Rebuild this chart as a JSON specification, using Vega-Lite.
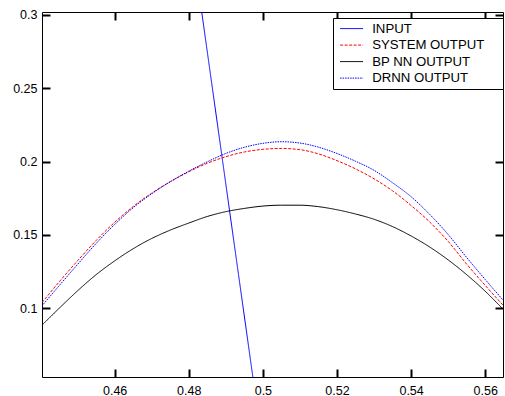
{
  "$schema": "https://vega.github.io/schema/vega-lite/v6.json",
  "width": 461,
  "height": 365,
  "autosize": {"type": "none"},
  "padding": {"left": 42, "top": 12, "right": 2, "bottom": 19},
  "background": "white",
  "config": {
    "view": {"stroke": "black", "strokeWidth": 1},
    "font": "Liberation Sans",
    "axis": {"labelFont": "Liberation Sans", "labelFontSize": 12.5, "labelColor": "black", "grid": false, "title": null}
  },
  "data": {"values": [
    {"series": "INPUT", "x": 0.4835, "y": 0.302},
    {"series": "INPUT", "x": 0.4973, "y": 0.053},
    {"series": "SYSTEM OUTPUT", "x": 0.4404, "y": 0.1038},
    {"series": "SYSTEM OUTPUT", "x": 0.445, "y": 0.1178},
    {"series": "SYSTEM OUTPUT", "x": 0.45, "y": 0.1323},
    {"series": "SYSTEM OUTPUT", "x": 0.455, "y": 0.1461},
    {"series": "SYSTEM OUTPUT", "x": 0.46, "y": 0.1585},
    {"series": "SYSTEM OUTPUT", "x": 0.465, "y": 0.1693},
    {"series": "SYSTEM OUTPUT", "x": 0.47, "y": 0.1784},
    {"series": "SYSTEM OUTPUT", "x": 0.475, "y": 0.1862},
    {"series": "SYSTEM OUTPUT", "x": 0.48, "y": 0.1930},
    {"series": "SYSTEM OUTPUT", "x": 0.485, "y": 0.1988},
    {"series": "SYSTEM OUTPUT", "x": 0.49, "y": 0.2033},
    {"series": "SYSTEM OUTPUT", "x": 0.495, "y": 0.2065},
    {"series": "SYSTEM OUTPUT", "x": 0.50, "y": 0.2083},
    {"series": "SYSTEM OUTPUT", "x": 0.505, "y": 0.2089},
    {"series": "SYSTEM OUTPUT", "x": 0.51, "y": 0.2081},
    {"series": "SYSTEM OUTPUT", "x": 0.515, "y": 0.2052},
    {"series": "SYSTEM OUTPUT", "x": 0.52, "y": 0.2006},
    {"series": "SYSTEM OUTPUT", "x": 0.525, "y": 0.1950},
    {"series": "SYSTEM OUTPUT", "x": 0.53, "y": 0.1882},
    {"series": "SYSTEM OUTPUT", "x": 0.535, "y": 0.1800},
    {"series": "SYSTEM OUTPUT", "x": 0.54, "y": 0.1700},
    {"series": "SYSTEM OUTPUT", "x": 0.545, "y": 0.1588},
    {"series": "SYSTEM OUTPUT", "x": 0.55, "y": 0.1455},
    {"series": "SYSTEM OUTPUT", "x": 0.555, "y": 0.1300},
    {"series": "SYSTEM OUTPUT", "x": 0.56, "y": 0.1155},
    {"series": "SYSTEM OUTPUT", "x": 0.5648, "y": 0.1020},
    {"series": "BP NN OUTPUT", "x": 0.4404, "y": 0.0884},
    {"series": "BP NN OUTPUT", "x": 0.445, "y": 0.0998},
    {"series": "BP NN OUTPUT", "x": 0.45, "y": 0.1118},
    {"series": "BP NN OUTPUT", "x": 0.455, "y": 0.1228},
    {"series": "BP NN OUTPUT", "x": 0.46, "y": 0.1322},
    {"series": "BP NN OUTPUT", "x": 0.465, "y": 0.1405},
    {"series": "BP NN OUTPUT", "x": 0.47, "y": 0.1475},
    {"series": "BP NN OUTPUT", "x": 0.475, "y": 0.1532},
    {"series": "BP NN OUTPUT", "x": 0.48, "y": 0.1580},
    {"series": "BP NN OUTPUT", "x": 0.485, "y": 0.1625},
    {"series": "BP NN OUTPUT", "x": 0.49, "y": 0.1658},
    {"series": "BP NN OUTPUT", "x": 0.495, "y": 0.1680},
    {"series": "BP NN OUTPUT", "x": 0.50, "y": 0.1696},
    {"series": "BP NN OUTPUT", "x": 0.505, "y": 0.1702},
    {"series": "BP NN OUTPUT", "x": 0.51, "y": 0.1702},
    {"series": "BP NN OUTPUT", "x": 0.515, "y": 0.1692},
    {"series": "BP NN OUTPUT", "x": 0.52, "y": 0.1671},
    {"series": "BP NN OUTPUT", "x": 0.525, "y": 0.1642},
    {"series": "BP NN OUTPUT", "x": 0.53, "y": 0.1606},
    {"series": "BP NN OUTPUT", "x": 0.535, "y": 0.1556},
    {"series": "BP NN OUTPUT", "x": 0.54, "y": 0.1492},
    {"series": "BP NN OUTPUT", "x": 0.545, "y": 0.1417},
    {"series": "BP NN OUTPUT", "x": 0.55, "y": 0.1329},
    {"series": "BP NN OUTPUT", "x": 0.555, "y": 0.1228},
    {"series": "BP NN OUTPUT", "x": 0.56, "y": 0.1115},
    {"series": "BP NN OUTPUT", "x": 0.5648, "y": 0.0993},
    {"series": "DRNN OUTPUT", "x": 0.4404, "y": 0.1016},
    {"series": "DRNN OUTPUT", "x": 0.445, "y": 0.1152},
    {"series": "DRNN OUTPUT", "x": 0.45, "y": 0.1298},
    {"series": "DRNN OUTPUT", "x": 0.455, "y": 0.1441},
    {"series": "DRNN OUTPUT", "x": 0.46, "y": 0.1570},
    {"series": "DRNN OUTPUT", "x": 0.465, "y": 0.1685},
    {"series": "DRNN OUTPUT", "x": 0.47, "y": 0.1780},
    {"series": "DRNN OUTPUT", "x": 0.475, "y": 0.1862},
    {"series": "DRNN OUTPUT", "x": 0.48, "y": 0.1934},
    {"series": "DRNN OUTPUT", "x": 0.485, "y": 0.1998},
    {"series": "DRNN OUTPUT", "x": 0.49, "y": 0.2055},
    {"series": "DRNN OUTPUT", "x": 0.495, "y": 0.2097},
    {"series": "DRNN OUTPUT", "x": 0.50, "y": 0.2124},
    {"series": "DRNN OUTPUT", "x": 0.505, "y": 0.2135},
    {"series": "DRNN OUTPUT", "x": 0.51, "y": 0.2126},
    {"series": "DRNN OUTPUT", "x": 0.515, "y": 0.2098},
    {"series": "DRNN OUTPUT", "x": 0.52, "y": 0.2055},
    {"series": "DRNN OUTPUT", "x": 0.525, "y": 0.2002},
    {"series": "DRNN OUTPUT", "x": 0.53, "y": 0.1940},
    {"series": "DRNN OUTPUT", "x": 0.535, "y": 0.1855},
    {"series": "DRNN OUTPUT", "x": 0.54, "y": 0.1760},
    {"series": "DRNN OUTPUT", "x": 0.545, "y": 0.1640},
    {"series": "DRNN OUTPUT", "x": 0.55, "y": 0.1502},
    {"series": "DRNN OUTPUT", "x": 0.555, "y": 0.1345},
    {"series": "DRNN OUTPUT", "x": 0.56, "y": 0.1195},
    {"series": "DRNN OUTPUT", "x": 0.5648, "y": 0.1055}
  ]},
  "resolve": {"axis": {"x": "independent", "y": "independent"}},
  "layer": [
    {
      "mark": {"type": "line", "clip": true, "strokeWidth": 1, "interpolate": "monotone"},
      "encoding": {
        "x": {"field": "x", "type": "quantitative",
          "scale": {"domain": [0.4404, 0.5648], "nice": false, "zero": false},
          "axis": {"orient": "bottom", "values": [0.46, 0.48, 0.5, 0.52, 0.54, 0.56], "format": "~g", "labelPadding": 7, "domain": false, "ticks": true, "tickSize": 8, "tickWidth": 2, "tickColor": "black", "offset": -8}},
        "y": {"field": "y", "type": "quantitative",
          "scale": {"domain": [0.053, 0.302], "nice": false, "zero": false},
          "axis": {"orient": "left", "values": [0.1, 0.15, 0.2, 0.25, 0.3], "format": "~g", "labelPadding": 5, "domain": false, "ticks": true, "tickSize": 8, "tickWidth": 2, "tickColor": "black", "offset": -8}},
        "color": {"field": "series", "type": "nominal",
          "scale": {"domain": ["INPUT", "SYSTEM OUTPUT", "BP NN OUTPUT", "DRNN OUTPUT"], "range": ["#0000ff", "#ff0000", "#000000", "#0000ff"]},
          "legend": {"orient": "none", "legendX": 291, "legendY": 6, "title": "\u2003", "titleOrient": "right", "titlePadding": 15, "titleFontSize": 13, "symbolType": "M-2,0H2", "symbolSize": 132, "symbolOffset": 8, "symbolStrokeWidth": 1, "labelFont": "Liberation Sans", "labelFontSize": 13.2, "labelColor": "black", "labelOffset": 14, "fillColor": "white", "strokeColor": "black", "padding": 4, "rowPadding": 2.5, "labelLimit": 250}},
        "strokeDash": {"field": "series", "type": "nominal",
          "scale": {"domain": ["INPUT", "SYSTEM OUTPUT", "BP NN OUTPUT", "DRNN OUTPUT"], "range": [[1, 0], [3, 1.5], [1, 0], [1.5, 1]]},
          "legend": null}
      }
    },
    {
      "mark": {"type": "point", "opacity": 0},
      "encoding": {
        "x": {"field": "x", "type": "quantitative",
          "scale": {"domain": [0.4404, 0.5648], "nice": false, "zero": false},
          "axis": {"orient": "top", "values": [0.46, 0.48, 0.5, 0.52, 0.54, 0.56], "labels": false, "domain": false, "ticks": true, "tickSize": 8, "tickWidth": 2, "tickColor": "black", "offset": -8}},
        "y": {"field": "y", "type": "quantitative",
          "scale": {"domain": [0.053, 0.302], "nice": false, "zero": false},
          "axis": {"orient": "right", "values": [0.1, 0.15, 0.2, 0.25, 0.3], "labels": false, "domain": false, "ticks": true, "tickSize": 8, "tickWidth": 2, "tickColor": "black", "offset": -8}}
      }
    }
  ]
}
